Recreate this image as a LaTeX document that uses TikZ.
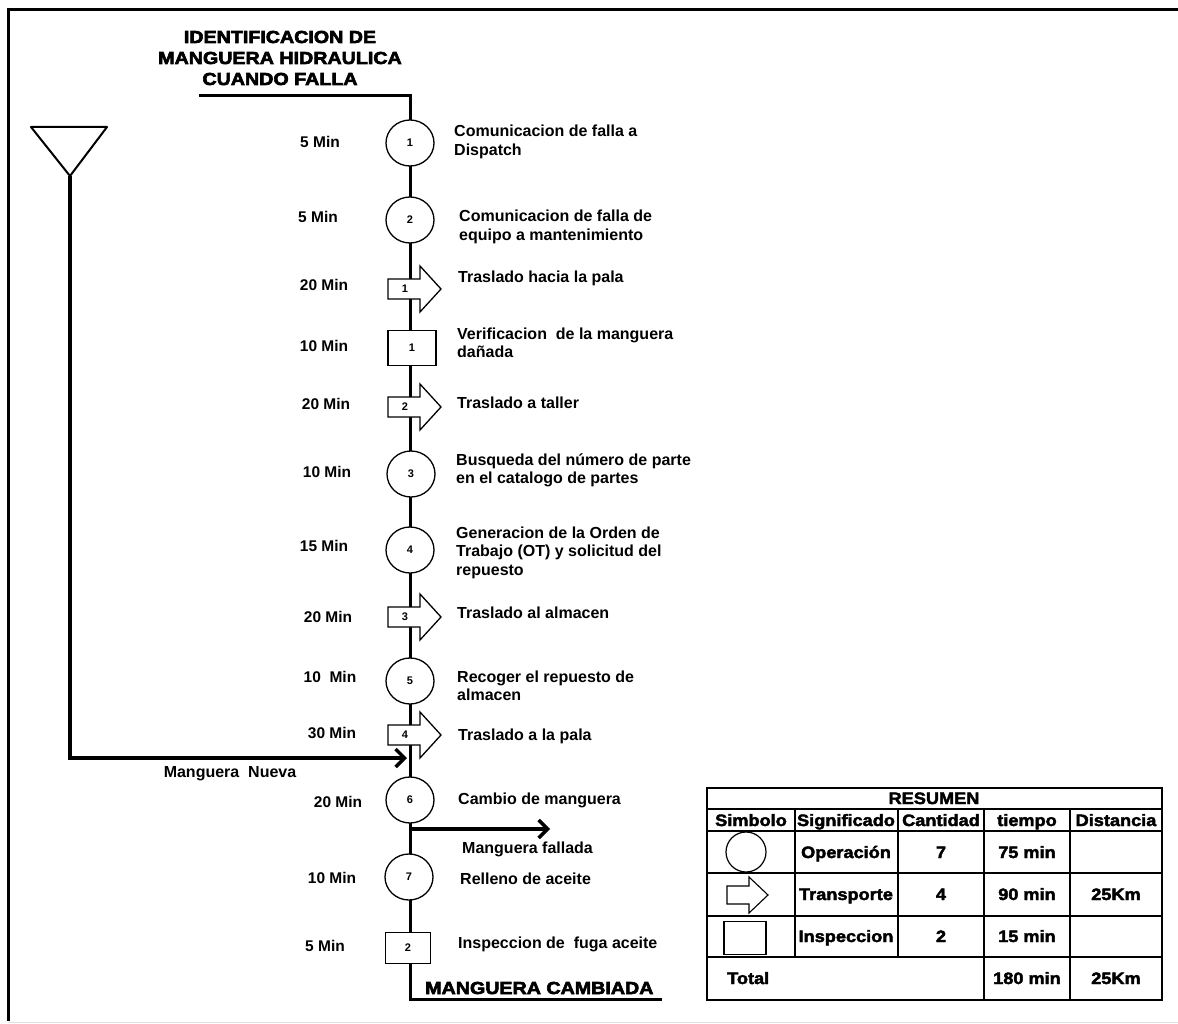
\documentclass[tikz,border=0pt]{standalone}
\usepackage{fontspec}
\setmainfont{Liberation Sans}
\newfontfamily\heavyfont{Liberation Sans}[FakeBold=3.5,FakeStretch=1.13]
\newfontfamily\tabfont{Liberation Sans}[FakeBold=2.5,FakeStretch=1.1]
\usetikzlibrary{arrows.meta,shapes.geometric}
\newcommand\mlines[1]{\vtop{\halign{##\hfil\cr#1\crcr}}}
\newcommand\clines[1]{\vtop{\halign{\hfil##\hfil\cr#1\crcr}}}
\tikzset{
 flowline/.style={line width=3pt},
 opnode/.style={draw, line width=1.3pt, fill=white, ellipse, minimum width=48pt, minimum height=46pt, inner sep=0pt, font=\bfseries\fontsize{11}{12}\selectfont},
 insnode/.style={draw, line width=1.3pt, fill=white, rectangle, minimum width=48pt, minimum height=35pt, inner sep=0pt, font=\bfseries\fontsize{11}{12}\selectfont},
 trshape/.style={draw, line width=1.3pt, fill=white},
 numtxt/.style={font=\bfseries\fontsize{11}{12}\selectfont, inner sep=0pt},
 timetxt/.style={font=\bfseries\fontsize{15.5}{18}\selectfont, anchor=base, inner sep=0pt},
 desctxt/.style={font=\bfseries\fontsize{16}{18.5}\selectfont, anchor=base west, inner sep=0pt},
 titletxt/.style={font=\heavyfont\bfseries\fontsize{17.4}{21}\selectfont, inner sep=0pt},
 tabtxt/.style={font=\tabfont\bfseries\fontsize{16.5}{18}\selectfont, anchor=base, inner sep=0pt},
 tabline/.style={line width=1.6pt},
 bigarrow/.style={line width=3.5pt, -{Straight Barb[length=9pt,width=18pt]}},
}
\newcommand\transport[3]{%
 \path[trshape] (388,#2-10) -- (420,#2-10) -- (420,#2-23) -- (441,#2) -- (420,#2+23) -- (420,#2+10) -- (388,#2+10) -- cycle;
 \node[numtxt] (#1) at (405,#2) {#3};}
\begin{document}
\begin{tikzpicture}[x=1pt,y=-1pt]
\useasboundingbox (0,0) rectangle (1178,1024);
% frame
\draw[line width=3pt] (1178,10) -- (8,10) -- (8,1021);
\draw[black!12, line width=1pt] (8,1022.5) -- (1178,1022.5);
% title
\node[titletxt, anchor=base] (title) at (280,43) {\clines{IDENTIFICACION DE\cr MANGUERA HIDRAULICA\cr CUANDO FALLA}};
% main flow line
\coordinate (start) at (199,96);
\coordinate (endc) at (410,999);
\coordinate (endr) at (662,999);
\coordinate (fj) at (410,829);
\coordinate (falltip) at (550,829);
\draw[flowline] (start) -| (endc) -- (endr);
% triangle and new hose
\coordinate (tri) at (70,176);
\coordinate (nuevatip) at (407,758);
\draw[line width=2pt, line join=round] (31,127) -- (107,127) -- (tri) -- cycle;
\draw[bigarrow] (tri) |- (nuevatip);
\draw[bigarrow] (fj) -- (falltip);
% symbols
\node[opnode] (c1) at (410,143) {1};
\node[opnode] (c2) at (410,220) {2};
\transport{t1}{289}{1}
\node[insnode] (s1) at (412,348) {1};
\transport{t2}{407}{2}
\node[opnode] (c3) at (411,474) {3};
\node[opnode] (c4) at (410,550) {4};
\transport{t3}{617}{3}
\node[opnode] (c5) at (410,681) {5};
\transport{t4}{735}{4}
\node[opnode] (c6) at (410,800) {6};
\node[opnode] (c7) at (409,877) {7};
\node[insnode, minimum width=45pt, minimum height=31pt] (s2) at (408,948) {2};
% times
\node[timetxt] (m1) at (320,148) {5 Min};
\node[timetxt] (m2) at (318,223) {5 Min};
\node[timetxt] (m3) at (324,291) {20 Min};
\node[timetxt] (m4) at (324,352) {10 Min};
\node[timetxt] (m5) at (326,409) {20 Min};
\node[timetxt] (m6) at (327,477) {10 Min};
\node[timetxt] (m7) at (324,551) {15 Min};
\node[timetxt] (m8) at (328,622) {20 Min};
\node[timetxt] (m9) at (330,682) {10~ Min};
\node[timetxt] (m10) at (332,738) {30 Min};
\node[timetxt] (m11) at (338,807) {20 Min};
\node[timetxt] (m12) at (332,883) {10 Min};
\node[timetxt] (m13) at (325,951) {5 Min};
% descriptions
\node[desctxt] (d1) at (454,137) {\mlines{Comunicacion de falla a\cr Dispatch}};
\node[desctxt] (d2) at (459,222) {\mlines{Comunicacion de falla de\cr equipo a mantenimiento}};
\node[desctxt] (d3) at (458,283) {Traslado hacia la pala};
\node[desctxt] (d4) at (457,339) {\mlines{Verificacion~ de la manguera\cr dañada}};
\node[desctxt] (d5) at (457,408) {Traslado a taller};
\node[desctxt] (d6) at (456,465) {\mlines{Busqueda del número de parte\cr en el catalogo de partes}};
\node[desctxt] (d7) at (456,538) {\mlines{Generacion de la Orden de\cr Trabajo (OT) y solicitud del\cr repuesto}};
\node[desctxt] (d8) at (457,618) {Traslado al almacen};
\node[desctxt] (d9) at (457,682) {\mlines{Recoger el repuesto de\cr almacen}};
\node[desctxt] (d10) at (458,740) {Traslado a la pala};
\node[desctxt] (d11) at (458,804) {Cambio de manguera};
\node[desctxt] (d12) at (462,853) {Manguera fallada};
\node[desctxt] (d13) at (460,884) {Relleno de aceite};
\node[desctxt] (d14) at (458,948) {Inspeccion de~ fuga aceite};
\node[desctxt, anchor=base] (nueva) at (230,777) {Manguera~ Nueva};
\node[titletxt, anchor=base west] (fin) at (425,994) {MANGUERA CAMBIADA};
% summary table
\draw[tabline] (707,788) rectangle (1162,1000);
\foreach \yy in {809,831,873,916,957} \draw[tabline] (707,\yy) -- (1162,\yy);
\foreach \xx in {795,898} \draw[tabline] (\xx,809) -- (\xx,957);
\foreach \xx in {984,1070} \draw[tabline] (\xx,809) -- (\xx,1000);
\node[tabtxt] (tres) at (934,804) {RESUMEN};
\node[tabtxt] (h1) at (751,826) {Simbolo};
\node[tabtxt] (h2) at (846,826) {Significado};
\node[tabtxt] (h3) at (941,826) {Cantidad};
\node[tabtxt] (h4) at (1027,826) {tiempo};
\node[tabtxt] (h5) at (1116,826) {Distancia};
\node[draw, circle, line width=1.2pt, minimum size=40pt, inner sep=0pt] (tabop) at (746,852) {};
\path[trshape, line width=1.1pt] (727,886) -- (749,886) -- (749,877) -- (768,895) -- (749,913) -- (749,904) -- (727,904) -- cycle;
\node[draw, rectangle, line width=1.2pt, minimum width=42pt, minimum height=33pt, inner sep=0pt] (tabins) at (745,938) {};
\node[tabtxt] (r1a) at (846,858) {Operación};
\node[tabtxt] (r1b) at (941,858) {7};
\node[tabtxt] (r1c) at (1027,858) {75 min};
\node[tabtxt] (r2a) at (846,900) {Transporte};
\node[tabtxt] (r2b) at (941,900) {4};
\node[tabtxt] (r2c) at (1027,900) {90 min};
\node[tabtxt] (r2d) at (1116,900) {25Km};
\node[tabtxt] (r3a) at (846,942) {Inspeccion};
\node[tabtxt] (r3b) at (941,942) {2};
\node[tabtxt] (r3c) at (1027,942) {15 min};
\node[tabtxt, anchor=base west] (tot) at (727,984) {Total};
\node[tabtxt] (totc) at (1027,984) {180 min};
\node[tabtxt] (totd) at (1116,984) {25Km};
\end{tikzpicture}
\end{document}
